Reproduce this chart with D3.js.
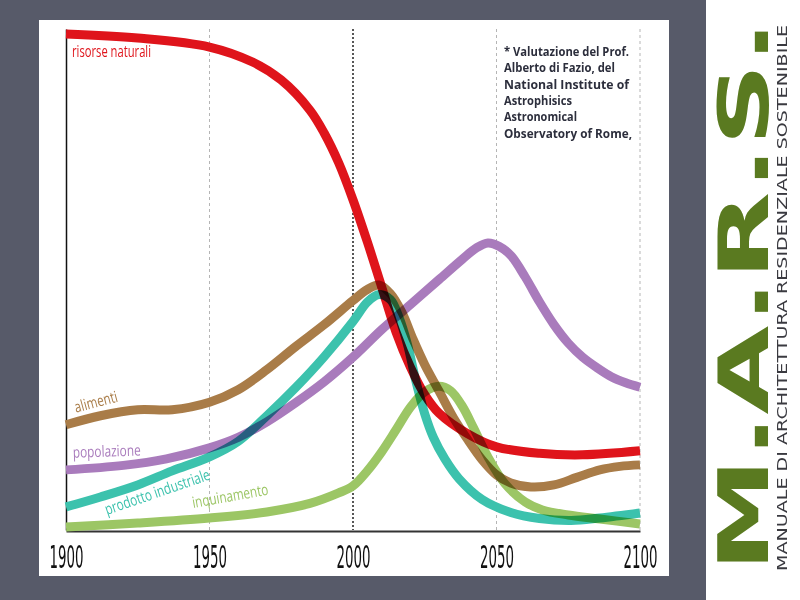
<!DOCTYPE html>
<html><head><meta charset="utf-8">
<script src="https://cdn.jsdelivr.net/npm/d3@7"></script>
<style>
html,body{margin:0;padding:0;background:#575a69;}
svg{display:block;}
</style></head>
<body>
<svg id="c" width="800" height="600"></svg>
<script>
// ---- data (index units, 0-100) ----
const tickYears = [1900, 1950, 2000, 2050, 2100];
const gridYears = [1950, 2000, 2050, 2100];

const risorseYears = [1900,1925,1950,1965,1975,1985,1990,1995,2000,2005,2010,2015,2020,2025,2030,2040,2050,2065,2080,2100];
const risorseVals  = [99.0,98.2,96.4,93.4,89.8,83.8,79.2,73.3,65.9,57.5,48.5,39.5,32.5,27.0,23.3,19.2,16.6,15.3,15.0,15.8];

const alimentiYears = [1900,1912,1925,1937,1950,1960,1970,1980,1990,2000,2005,2009,2013,2017,2021,2025,2030,2035,2040,2045,2050,2055,2062,2070,2078,2086,2093,2100];
const alimentiVals  = [21.0,22.8,24.0,24.0,25.5,28.0,32.0,36.6,41.0,45.8,48.0,48.9,47.2,43.5,38.0,33.0,27.7,22.4,18.0,14.0,11.0,9.4,8.6,9.0,10.5,12.0,12.7,13.0];

const prodottoYears = [1900,1912,1925,1937,1950,1960,1970,1980,1990,2000,2005,2009,2013,2016,2019,2022,2025,2028,2032,2037,2045,2055,2065,2076,2086,2100];
const prodottoVals  = [4.6,6.6,9.0,11.8,14.6,17.7,22.8,28.4,34.6,41.6,45.5,47.0,46.0,42.5,37.0,29.5,23.2,18.5,14.2,10.2,6.1,3.5,2.3,1.9,2.4,3.4];

const popolazioneYears = [1900,1920,1935,1950,1960,1970,1980,1990,2000,2010,2020,2030,2038,2043,2047,2051,2055,2060,2065,2070,2075,2080,2085,2090,2095,2100];
const popolazioneVals  = [12.0,12.9,14.2,16.4,18.5,21.6,25.4,29.6,34.5,40.0,45.0,50.0,54.0,56.3,57.3,56.6,54.8,50.5,45.5,41.0,37.3,34.5,32.4,30.6,29.4,28.5];

const inquinamentoYears = [1900,1925,1950,1970,1985,1995,2000,2005,2010,2015,2020,2025,2030,2034,2038,2042,2047,2053,2060,2066,2075,2086,2100];
const inquinamentoVals  = [0.6,1.4,2.4,3.6,5.3,7.4,8.8,11.8,15.6,20.0,24.5,27.6,28.7,27.8,24.8,20.4,14.6,9.2,5.6,4.0,3.0,2.2,1.2];

const seriesNames  = ["risorse naturali","alimenti","popolazione","prodotto industriale","inquinamento"];
const seriesColors = ["#df141b","#a97c48","#a97bbc","#3cc2ad","#9cc665"];

const noteLines = ["* Valutazione del Prof.","Alberto di Fazio, del","National Institute of","Astrophisics","Astronomical","Observatory of Rome,"];
const brandTitle = "M.A.R.S.";
const brandSub = "MANUALE DI ARCHITETTURA RESIDENZIALE SOSTENIBILE";

// ---- drawing ----
const svg = d3.select("#c");
const x = d3.scaleLinear().domain([1900,2100]).range([66,640]);
const y = d3.scaleLinear().domain([0,100]).range([530,29]);

svg.append("rect").attr("x",39).attr("y",20).attr("width",630).attr("height",556).attr("fill","#fff");
svg.append("rect").attr("x",706).attr("y",0).attr("width",94).attr("height",600).attr("fill","#fff");

gridYears.forEach(yr=>{
  const black = yr===2000;
  svg.append("line")
    .attr("x1",x(yr)).attr("x2",x(yr)).attr("y1",y(100)).attr("y2",y(0))
    .attr("stroke",black?"#111":"#b5b5b5")
    .attr("stroke-width",black?1.4:1)
    .attr("stroke-dasharray",black?"2,2":"3,3");
});

const xAxis = d3.axisBottom(x).tickValues(tickYears).tickFormat(d3.format("d")).tickSize(0).tickPadding(14);
const gx = svg.append("g").attr("transform",`translate(0,${y(0)+1})`).call(xAxis);
gx.select(".domain").attr("stroke","#333").attr("stroke-width",2);
gx.selectAll("text")
  .attr("font-family","'Liberation Sans Narrow','DejaVu Sans Condensed',sans-serif")
  .attr("font-size",32).attr("fill","#111")
  .attr("textLength",34).attr("lengthAdjust","spacingAndGlyphs");

const yAxis = d3.axisLeft(y).tickValues([]).tickSize(0);
const gy = svg.append("g").attr("transform",`translate(${x(1900)},0)`).call(yAxis);
gy.select(".domain").attr("stroke","#111").attr("stroke-width",1.5);

const seriesData = [
  [risorseYears, risorseVals],
  [alimentiYears, alimentiVals],
  [popolazioneYears, popolazioneVals],
  [prodottoYears, prodottoVals],
  [inquinamentoYears, inquinamentoVals]
];
const line = d3.line().x(d=>x(d[0])).y(d=>y(d[1])).curve(d3.curveCatmullRom.alpha(0.5));
const lg = svg.append("g").style("isolation","isolate");
[4,3,2,1,0].forEach(i=>{
  const pts = d3.zip(seriesData[i][0], seriesData[i][1]);
  lg.append("path").attr("d",line(pts)).attr("fill","none")
    .attr("stroke",seriesColors[i]).attr("stroke-width",9)
    .attr("stroke-linecap","butt")
    .style("mix-blend-mode","multiply");
});

const labelFont = "'Open Sans','DejaVu Sans Condensed',sans-serif";
const labels = [
  {i:0, yr:1902.1, v:94.4, rot:0,   len:79},
  {i:1, yr:1903.5, v:23.4, rot:-15, len:44},
  {i:2, yr:1902.4, v:14.4, rot:-2,  len:68},
  {i:3, yr:1914.3, v:3.0,  rot:-19, len:110},
  {i:4, yr:1944.3, v:4.4,  rot:-10, len:77}
];
labels.forEach(l=>{
  const px = x(l.yr), py = y(l.v);
  svg.append("text").attr("x",px).attr("y",py)
    .attr("transform",`rotate(${l.rot},${px},${py})`)
    .attr("font-family",labelFont).attr("font-size",15.5)
    .attr("fill",seriesColors[l.i])
    .attr("textLength",l.len).attr("lengthAdjust","spacingAndGlyphs")
    .text(seriesNames[l.i]);
});

const noteWidths = [125,111,125,68,73,128];
noteLines.forEach((t,k)=>{
  svg.append("text").attr("x",504).attr("y",56+k*16.3)
    .attr("font-family","'Open Sans','DejaVu Sans',sans-serif").attr("font-weight","bold")
    .attr("font-size",12.5).attr("fill","#2c2e3c")
    .attr("textLength",noteWidths[k]).attr("lengthAdjust","spacingAndGlyphs")
    .text(t);
});

const defs = svg.append("defs");
const grad = defs.append("linearGradient").attr("id","leaf").attr("gradientUnits","userSpaceOnUse")
  .attr("x1",0).attr("y1",20).attr("x2",0).attr("y2",575);
[["0","#5a7a20"],["0.08","#a9c63a"],["0.14","#3f5618"],["0.22","#8fae30"],["0.3","#d3e352"],["0.4","#c2d846"],["0.47","#4c621e"],["0.55","#88a72c"],["0.62","#b3cf3e"],["0.7","#445a1a"],["0.8","#bcd742"],["0.88","#dbe856"],["0.95","#78992a"],["1","#3a4f1a"]]
  .forEach(s=>grad.append("stop").attr("offset",s[0]).attr("stop-color",s[1]));

svg.append("text").attr("x",0).attr("y",0)
  .attr("transform","translate(768,572) rotate(-90)")
  .attr("font-family","'DejaVu Sans',sans-serif").attr("font-weight","bold")
  .attr("font-size",70).attr("fill","url(#leaf)")
  .attr("textLength",552).attr("lengthAdjust","spacingAndGlyphs")
  .text(brandTitle);

svg.append("text").attr("x",0).attr("y",0)
  .attr("transform","translate(787,571) rotate(-90)")
  .attr("font-family","'DejaVu Sans','Liberation Sans',sans-serif")
  .attr("font-size",14.5).attr("fill","#3a3a40")
  .attr("textLength",546).attr("lengthAdjust","spacingAndGlyphs")
  .text(brandSub);
</script>
</body></html>
